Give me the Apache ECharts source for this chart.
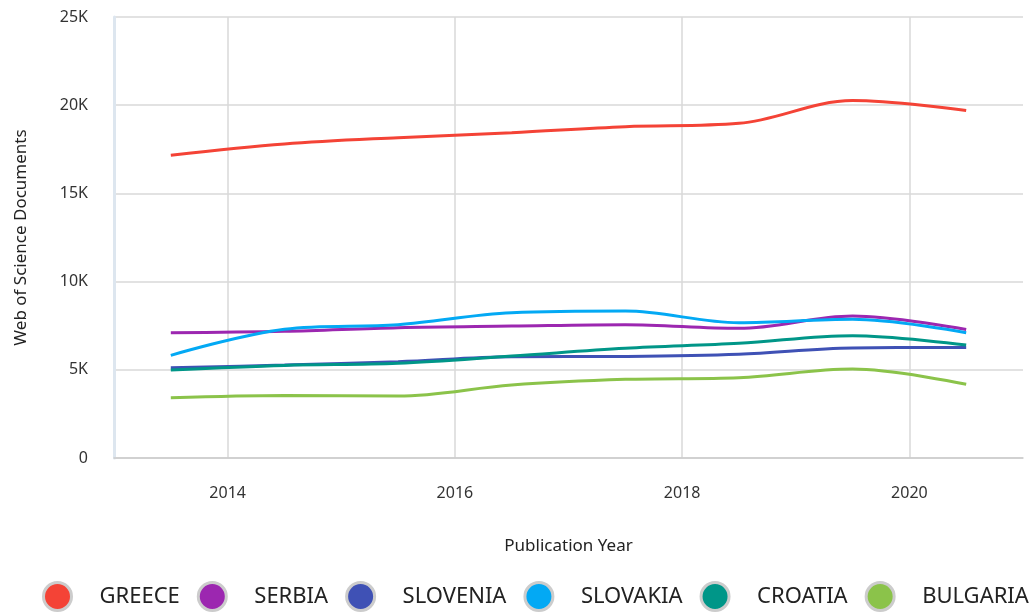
<!DOCTYPE html>
<html>
<head>
<meta charset="utf-8">
<script src="https://cdn.jsdelivr.net/npm/echarts@6/dist/echarts.min.js"></script>
<style>
  html, body { margin: 0; padding: 0; background: #fff; }
  #chart { width: 1036px; height: 612px; }
</style>
</head>
<body>
<div id="chart"></div>
<script>
// publication years (points sit mid-year)
var years = [2013.5, 2014.5, 2015.5, 2016.5, 2017.5, 2018.5, 2019.5, 2020.5];
var yearTicks = [2014, 2016, 2018, 2020];

var greece   = [17160, 17800, 18160, 18440, 18780, 18970, 20260, 19700];
var serbia   = [7100, 7180, 7390, 7480, 7560, 7350, 8050, 7280];
var slovenia = [5120, 5270, 5460, 5740, 5760, 5880, 6240, 6270];
var slovakia = [5820, 7300, 7560, 8240, 8330, 7670, 7860, 7100];
var croatia  = [4990, 5250, 5370, 5780, 6220, 6500, 6930, 6400];
var bulgaria = [3420, 3550, 3510, 4140, 4460, 4550, 5040, 4180];

var names  = ['GREECE', 'SERBIA', 'SLOVENIA', 'SLOVAKIA', 'CROATIA', 'BULGARIA'];
var colors = ['#f44336', '#9c27b0', '#3f51b5', '#03a9f4', '#009688', '#8bc34a'];
var values = [greece, serbia, slovenia, slovakia, croatia, bulgaria];

var font = 'Noto Sans';

function pairs(arr) {
	var out = [];
	for (var i = 0; i < years.length; i++) {
		out.push([years[i], arr[i]]);
	}
	return out;
}

var series = [];
for (var i = 0; i < names.length; i++) {
	series.push({
		name: names[i],
		type: 'line',
		smooth: 0.35,
		symbol: 'none',
		data: pairs(values[i]),
		lineStyle: { width: 3, color: colors[i] },
		itemStyle: { color: colors[i] }
	});
}

var myChart = echarts.init(document.getElementById('chart'));
myChart.setOption({
	animation: false,
	color: colors,
	grid: {
		left: 114,
		right: 13,
		top: 17,
		bottom: 154
	},
	legend: {
		data: names,
		left: 37,
		top: 576,
		icon: 'circle',
		itemWidth: 28,
		itemHeight: 28,
		itemGap: 17,
		itemStyle: { borderColor: '#cccccc', borderWidth: 3 },
		textStyle: {
			fontFamily: font,
			fontSize: 22,
			color: '#222',
			padding: [0, 0, 0, 23]
		}
	},
	xAxis: {
		type: 'value',
		min: 2013,
		max: 2021,
		name: 'Publication Year',
		nameLocation: 'middle',
		nameGap: 80,
		nameTextStyle: { fontFamily: font, fontSize: 17, color: '#222' },
		axisLine: { show: true, lineStyle: { color: '#cccccc', width: 1.5 } },
		axisTick: { show: false, customValues: yearTicks },
		axisLabel: {
			customValues: yearTicks,
			margin: 27,
			fontFamily: font,
			fontSize: 16,
			color: '#333',
			formatter: function (v) {
				return String(v);
			}
		},
		splitLine: { show: true, lineStyle: { color: '#d8d8d8', width: 1.5 } }
	},
	yAxis: {
		type: 'value',
		min: 0,
		max: 25000,
		interval: 5000,
		name: 'Web of Science Documents',
		nameLocation: 'middle',
		nameGap: 84,
		nameTextStyle: { fontFamily: font, fontSize: 17, color: '#222' },
		axisLine: { show: true, lineStyle: { color: '#dde6ef', width: 3 } },
		axisTick: { show: false },
		axisLabel: {
			margin: 26,
			fontFamily: font,
			fontSize: 16,
			color: '#333',
			formatter: function (v) {
				return v === 0 ? '0' : (v / 1000) + 'K';
			}
		},
		splitLine: { show: true, lineStyle: { color: '#d8d8d8', width: 1.5 } }
	},
	series: series
});
</script>
</body>
</html>
